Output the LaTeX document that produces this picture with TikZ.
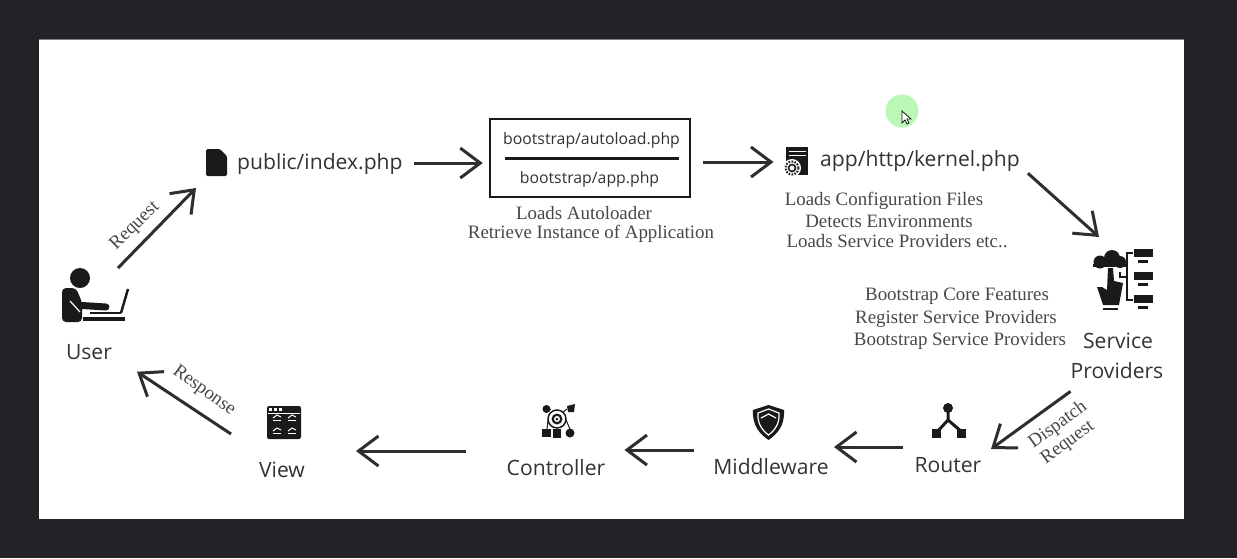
\documentclass[tikz,border=0pt]{standalone}
\usepackage{fontspec}
\setmainfont{Liberation Serif}
\newfontfamily\uifont{Open Sans}
\usetikzlibrary{arrows.meta}
\definecolor{ink}{HTML}{1A1A1A}
\definecolor{arrowink}{HTML}{2E2E2E}
\definecolor{textink}{HTML}{333333}
\definecolor{noteink}{HTML}{484848}
\definecolor{frame}{HTML}{242226}
\definecolor{cursorglow}{HTML}{BBF7B5}
\tikzset{
  flow/.style={draw=arrowink, line width=3pt, -{Straight Barb[length=20pt,width=30pt,line width=3pt]}},
  uilabel/.style={inner sep=0pt, anchor=base, text=textink, font=\uifont\fontsize{21.1}{22}\selectfont},
  smalllabel/.style={uilabel, font=\uifont\fontsize{15.8}{18}\selectfont},
  notelabel/.style={inner sep=0pt, anchor=base, text=noteink, font=\fontsize{18.9}{19}\selectfont},
  iconbox/.style={inner sep=0pt, outer sep=0pt, minimum width=#1}
}
\begin{document}
\begin{tikzpicture}[x=1pt,y=-1pt]
\useasboundingbox (0,0) rectangle (1237,558);
\fill[frame] (0,0) rectangle (1237,558);
\fill[white] (39,39) rectangle (1184,519);
\draw[gray,line width=1pt] (39,39) -- (1184,39);
% cursor
\fill[cursorglow] (902,111) circle (16.5pt);
\draw[fill=white,draw=ink,line width=0.8pt] (902,111) -- (902,123) -- (905,120) -- (907,124) -- (909,123) -- (907,119) -- (911,119) -- cycle;
% icon places
\node[iconbox=56pt,minimum height=54pt] (usericon) at (90,295) {};
\node[iconbox=22pt,minimum height=26pt] (fileicon) at (216,163) {};
\node[iconbox=25pt,minimum height=30pt] (kernicon) at (796,162) {};
\node[iconbox=62pt,minimum height=64pt] (servicon) at (1123,281) {};
\node[iconbox=34pt,minimum height=34pt] (routicon) at (949,421) {};
\node[iconbox=32pt,minimum height=34pt] (shieldicon) at (769,423) {};
\node[iconbox=34pt,minimum height=34pt] (contricon) at (558,422) {};
\node[iconbox=34pt,minimum height=34pt] (viewicon) at (284,423) {};
% labels
\node[uilabel] (userlbl) at (89,359) {User};
\node[uilabel,anchor=base west] (index) at (237,169) {public/index.php};
\node[draw=ink,line width=2.5pt,minimum width=200pt,minimum height=78pt,inner sep=0pt] (bootbox) at (590,158) {};
\node[smalllabel] (autoload) at (591.5,144) {bootstrap/autoload.php};
\node[smalllabel] (applbl) at (589.5,183) {bootstrap/app.php};
\draw[ink,line width=3pt] ([xshift=16pt]bootbox.west) -- ([xshift=-12pt]bootbox.east);
\node[uilabel,anchor=base west] (kernel) at (820,166) {app/http/kernel.php};
\node[uilabel] (servlbl) at (1118,348) {Service};
\node[uilabel] (provlbl) at (1117,378) {Providers};
\node[uilabel] (routlbl) at (948,472) {Router};
\node[uilabel] (midlbl) at (771,474) {Middleware};
\node[uilabel] (contrlbl) at (556,475) {Controller};
\node[uilabel] (viewlbl) at (282,477) {View};
% notes
\node[notelabel] (noteA) at (584,219) {Loads Autoloader};
\node[notelabel] (noteB) at (591,238) {Retrieve Instance of Application};
\node[notelabel] (noteC) at (884,205) {Loads Configuration Files};
\node[notelabel] (noteD) at (889,227) {Detects Environments};
\node[notelabel] (noteE) at (897,247) {Loads Service Providers etc..};
\node[notelabel] (noteF) at (957,300) {Bootstrap Core Features};
\node[notelabel] (noteG) at (956,323) {Register Service Providers};
\node[notelabel] (noteH) at (960,345) {Bootstrap Service Providers};
\node[notelabel,anchor=center,rotate=44] (reqlbl) at (135,226) {Request};
\node[notelabel,anchor=center,rotate=-36] (resplbl) at (204,391) {Response};
\node[notelabel,anchor=center,rotate=36] (displbl) at (1058,425) {Dispatch};
\node[notelabel,anchor=center,rotate=36] (dreqlbl) at (1068,443) {Request};
% connectors
\draw[flow] (usericon.north east) -- ([xshift=-9pt,yshift=-12pt]fileicon.south west);
\draw[flow] ([xshift=11pt]index.east |- fileicon.west) -- ([xshift=-6pt]bootbox.west |- fileicon.west);
\draw[flow] ([xshift=12pt]bootbox.east |- kernicon.west) -- ([xshift=-10pt]kernicon.west);
\draw[flow] ([xshift=8pt,yshift=-2pt]kernel.south east) -- ([xshift=7pt,yshift=12pt]servicon.north west);
\draw[flow] ([yshift=-13pt]provlbl.south west) -- ([xshift=25pt,yshift=-28pt]routicon.east);
\draw[flow] ([xshift=-29pt,yshift=-9pt]routicon.south west) -- ([xshift=49pt,yshift=-7pt]shieldicon.south east);
\draw[flow] ([xshift=-59pt,yshift=-10pt]shieldicon.south west) -- ([xshift=49.5pt,yshift=-11pt]contricon.south east);
\draw[flow] ([xshift=-75pt,yshift=-12pt]contricon.south west) -- ([xshift=55pt,yshift=-11pt]viewicon.south east);
\draw[flow] ([xshift=-36pt,yshift=-11pt]viewicon.west) -- ([xshift=48pt,yshift=-28pt]userlbl.north);
% user
\fill[ink] (80,278) circle (10pt);
\fill[ink,rounded corners=4pt] (62,322) -- (62,288) -- (76,288) -- (82,302) -- (82,322) -- cycle;
\draw[ink,line width=7pt,line cap=round] (74,305) -- (106,307);
\draw[white,line width=1.2pt] (70,301) -- (80,312);
\fill[ink] (83,317) rectangle (125,321);
\draw[ink,line width=2pt] (90,313) -- (121,313);
\draw[ink,line width=2.5pt] (128,289) -- (121,313);
% file
\fill[ink,rounded corners=1.5pt] (206,149) -- (220,149) -- (227,156) -- (227,176) -- (206,176) -- cycle;
\fill[white] (221,149) -- (227,149) -- (227,155) -- cycle;
% kernel
\fill[ink] (786,147) rectangle (808,175);
\fill[white] (789,151) rectangle (806,152);
\fill[white] (789,155) rectangle (806,156);
\fill[white] (792,168) circle (9pt);
\draw[ink,line width=2pt,dash pattern=on 1.6pt off 1.4pt] (792,168) circle (6.5pt);
\draw[ink,line width=1.6pt] (792,168) circle (3.5pt);
% service
\fill[ink] (1112,258) circle (8pt);
\fill[ink] (1100,262) circle (6.5pt);
\fill[ink] (1120,262) circle (6pt);
\fill[ink] (1093,264) rectangle (1126,267);
\fill[ink] (1097,287) -- (1103,305) -- (1119,305) -- (1123,283) -- (1114,281) -- (1113,268) -- (1108,268) -- (1107,290) -- (1102,287) -- cycle;
\fill[ink] (1103,308) rectangle (1118,310);
\draw[ink,line width=1.5pt] (1133,253) -- (1127,253) -- (1127,300) -- (1133,300);
\draw[ink,line width=1.5pt] (1120,272) -- (1120,277) -- (1127,277);
\foreach \rowy in {249,272,295} {
  \fill[ink] (1134,\rowy) rectangle (1153,\rowy+8);
  \fill[ink] (1138,\rowy+11) rectangle (1148,\rowy+14);
}
% router
\fill[ink] (948,408) circle (5pt);
\fill[ink] (932,429) rectangle (941,438);
\fill[ink] (957,429) rectangle (966,438);
\draw[ink,line width=3pt] (948,408) -- (948,420) -- (937,432);
\draw[ink,line width=3pt] (948,420) -- (962,432);
% shield
\fill[ink] (753,410) -- (768.5,405) -- (784,410) .. controls (785,426) and (777,434) .. (768.5,440) .. controls (760,434) and (752,426) .. (753,410) -- cycle;
\draw[white,line width=1.2pt] (758,413) -- (768.5,409) -- (779,413) .. controls (780,424) and (774,431) .. (768.5,435) .. controls (763,431) and (757,424) .. (758,413) -- cycle;
\draw[white,line width=1.2pt] (761,418) -- (768.5,414) -- (776,418);
% controller
\draw[ink,line width=1.5pt] (557,419) circle (9pt);
\fill[ink] (557,419) circle (5.5pt);
\fill[white] (557,419) circle (3pt);
\fill[ink] (557,419) circle (1.5pt);
\fill[ink] (553,429) rectangle (561,438);
\draw[ink,line width=1pt] (551,409) -- (548,409);
\draw[ink,line width=1pt] (563,412) -- (567,409);
\draw[ink,line width=1pt] (548,420) -- (547,429);
\draw[ink,line width=1pt] (566,420) -- (570,429);
\fill[ink] (546.5,409) circle (4pt);
\fill[ink] (567,406) -- (575,404) -- (574,412) -- (568,412) -- cycle;
\fill[ink] (542,429) rectangle (551,437);
\fill[ink] (570,433) circle (4.5pt);
% view
\fill[ink,rounded corners=2pt] (267,406) rectangle (301,439);
\foreach \boxx in {269,274,279} {
  \fill[white] (\boxx,408) rectangle (\boxx+3,411);
}
\fill[white] (268,412.5) rectangle (300,413);
\foreach \tilex/\tiley in {273/418,288/418,273/431,288/431} {
  \draw[white,line width=1pt] (\tilex,\tiley) -- (\tilex+4,\tiley-3) -- (\tilex+8,\tiley-1);
  \fill[white] (\tilex,\tiley+2) rectangle (\tilex+8,\tiley+3);
}
\end{tikzpicture}
\end{document}
